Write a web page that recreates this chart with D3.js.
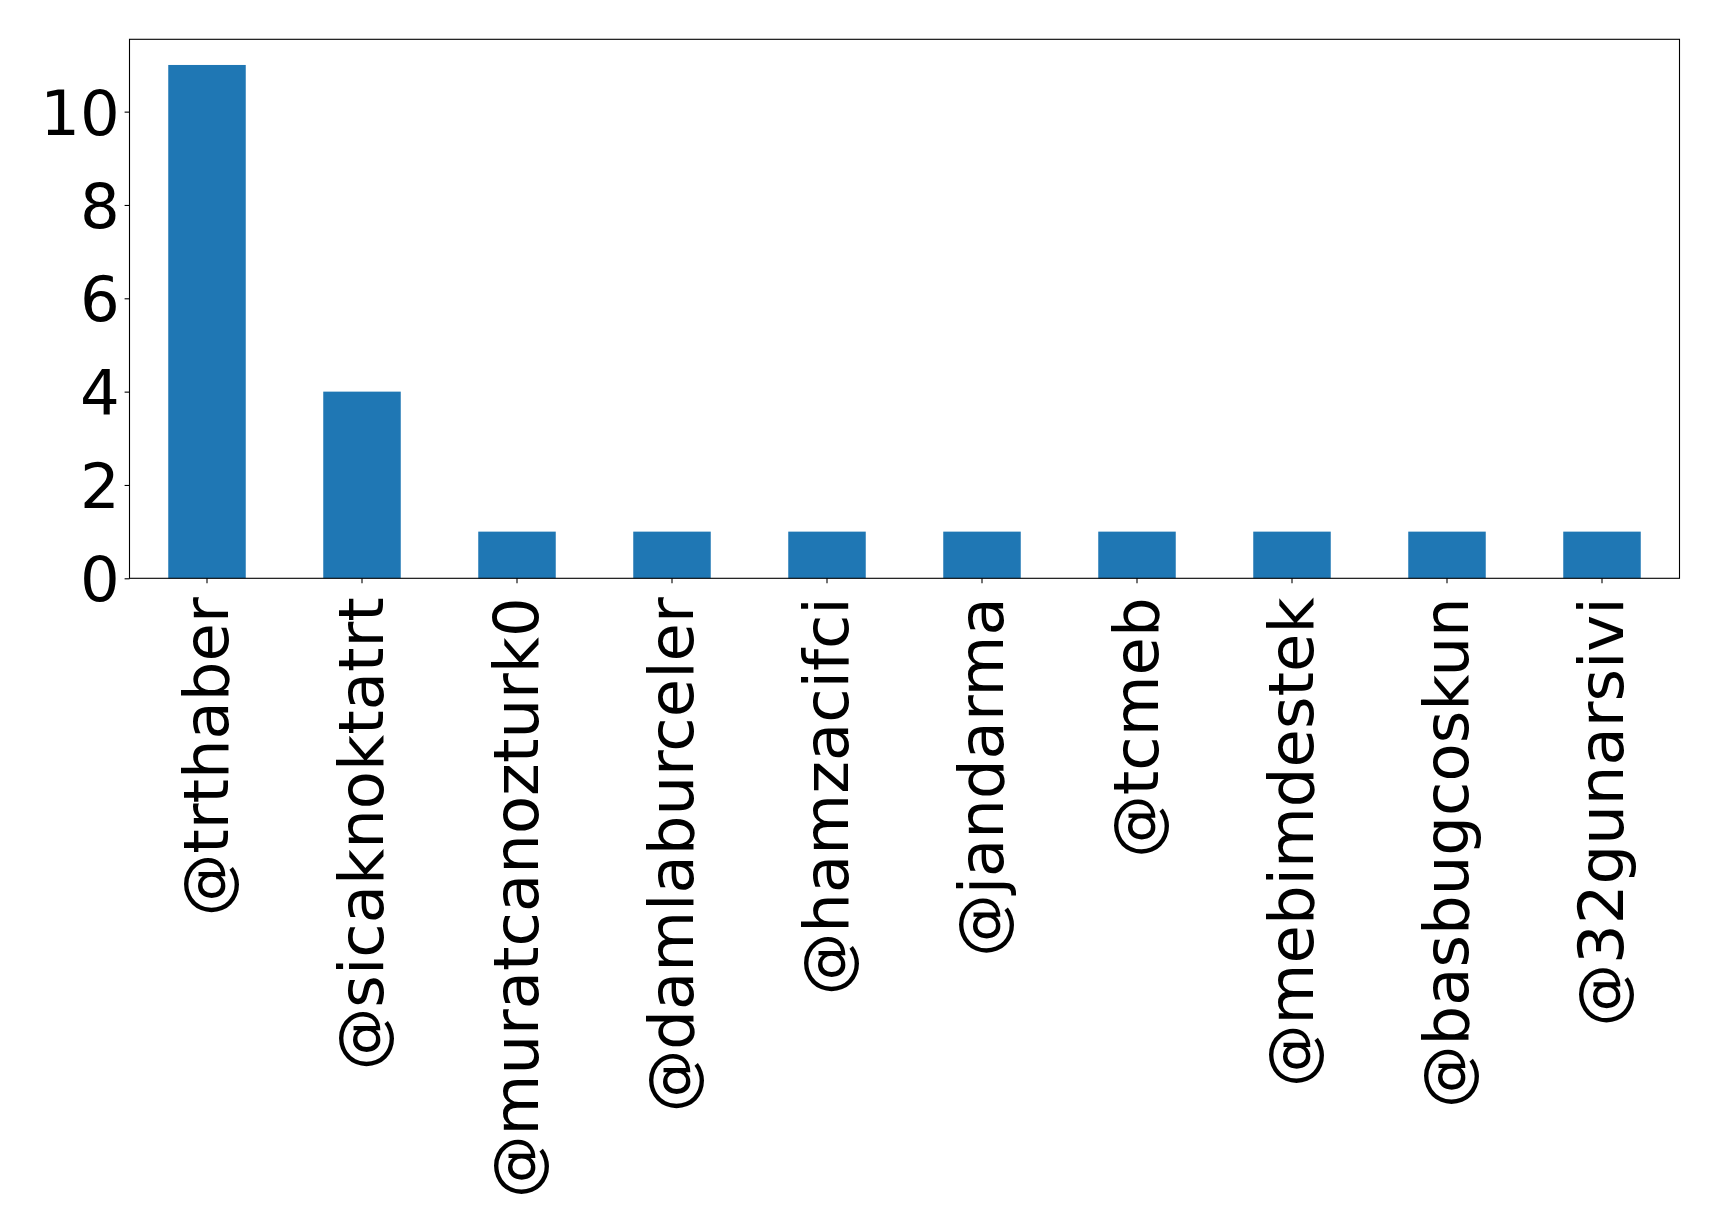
<!DOCTYPE html>
<html>
<head>
<meta charset="utf-8">
<script src="https://cdn.jsdelivr.net/npm/d3@7"></script>
<style>
  html, body { margin: 0; padding: 0; background: #fff; }
  svg { display: block; }
  text { font-family: "DejaVu Sans", sans-serif; fill: #000; }
</style>
</head>
<body>
<script>
const categories = ["@trthaber", "@sicaknoktatrt", "@muratcanozturk0", "@damlaburceler", "@hamzacifci", "@jandarma", "@tcmeb", "@mebimdestek", "@basbugcoskun", "@32gunarsivi"];
const values = [11, 4, 1, 1, 1, 1, 1, 1, 1, 1];
const yTicks = [0, 2, 4, 6, 8, 10];

(function () {
const W = 1719, H = 1228;
const mLeft = 129.5, mRight = 1679.5, mTop = 39.3, mBottom = 578.3;
const fontSize = 62.5;

const svg = d3.select("body").append("svg").attr("width", W).attr("height", H);
svg.append("rect").attr("width", W).attr("height", H).attr("fill", "#fff");

const x = d3.scaleBand().domain(categories).range([mLeft, mRight]).paddingInner(0.5).paddingOuter(0.25);
const y = d3.scaleLinear().domain([0, d3.max(values) * 1.05]).range([mBottom, mTop]);

svg.append("g").selectAll("rect").data(categories).join("rect")
  .attr("x", d => x(d))
  .attr("width", x.bandwidth())
  .attr("y", (d, i) => y(values[i]))
  .attr("height", (d, i) => mBottom - y(values[i]))
  .attr("fill", "#1f77b4");

// Y axis
const yAxis = svg.append("g").attr("transform", `translate(${mLeft},0)`)
  .call(d3.axisLeft(y).tickValues(yTicks).tickSize(4.9).tickPadding(4.9).tickFormat(d3.format("d")));
yAxis.select(".domain").remove();
yAxis.selectAll(".tick line").attr("stroke", "#000").attr("stroke-width", 1.1);
yAxis.selectAll(".tick text").attr("font-size", fontSize).attr("dy", "0.36em").attr("font-family", "DejaVu Sans").attr("fill", "#000");

// X axis
const xAxis = svg.append("g").attr("transform", `translate(0,${mBottom})`)
  .call(d3.axisBottom(x).tickSize(4.9).tickFormat(""));
xAxis.select(".domain").remove();
xAxis.selectAll(".tick line").attr("stroke", "#000").attr("stroke-width", 1.1);
xAxis.selectAll(".tick").append("text")
  .attr("transform", "translate(0,19) rotate(-90)")
  .attr("text-anchor", "end")
  .attr("x", 0)
  .attr("y", 21)
  .attr("font-size", fontSize)
  .attr("font-family", "DejaVu Sans")
  .attr("fill", "#000")
  .text(d => d);

// Frame
svg.append("rect")
  .attr("x", mLeft).attr("y", mTop)
  .attr("width", mRight - mLeft).attr("height", mBottom - mTop)
  .attr("fill", "none").attr("stroke", "#000").attr("stroke-width", 1.1);
})();
</script>
</body>
</html>
